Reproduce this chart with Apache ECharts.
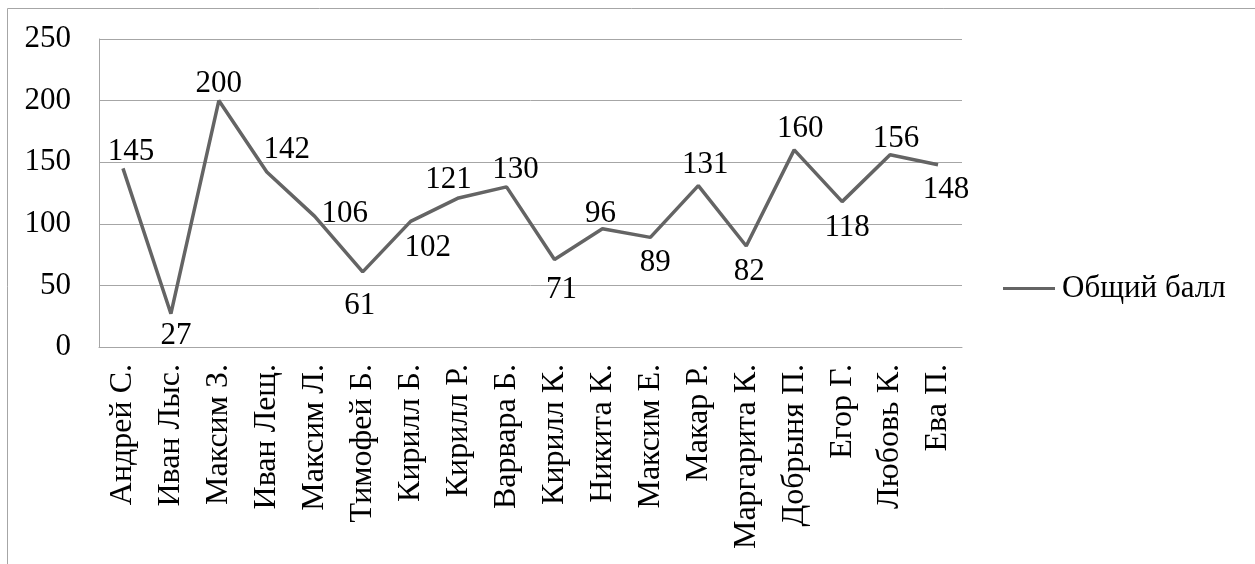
<!DOCTYPE html>
<html>
<head>
<meta charset="utf-8">
<style>
  html, body { margin: 0; padding: 0; background: #fff; }
  #chart { width: 1255px; height: 564px; }
</style>
<script src="https://cdn.jsdelivr.net/npm/echarts@6/dist/echarts.min.js"></script>
</head>
<body>
<div id="chart"></div>
<script>
// Students and their total scores
const students = ['Андрей С.', 'Иван Лыс.', 'Максим З.', 'Иван Лещ.', 'Максим Л.', 'Тимофей Б.',
  'Кирилл Б.', 'Кирилл Р.', 'Варвара Б.', 'Кирилл К.', 'Никита К.', 'Максим Е.', 'Макар Р.',
  'Маргарита К.', 'Добрыня П.', 'Егор Г.', 'Любовь К.', 'Ева П.'];
const totalScore = [145, 27, 200, 142, 106, 61, 102, 121, 130, 71, 96, 89, 131, 82, 160, 118, 156, 148];
const seriesName = 'Общий балл';

// Where each value label sits relative to its point (px)
const labelShift = [[8, -17], [5, 22], [0, -17], [20, -22], [30, -3], [-3, 34], [17, 27], [-10, -18],
  [9, -17], [7, 30], [-2, -15], [5, 26], [7, -21], [3, 26], [6, -21], [5, 26], [6, -16], [8, 25]];

const FONT = '"Liberation Serif", "Times New Roman", serif';
const FS = 31;
const LINE = '#646464';
const GRID = '#a6a6a6';

const chart = echarts.init(document.getElementById('chart'), null, { renderer: 'canvas' });

chart.setOption({
  animation: false,
  backgroundColor: '#fff',
  textStyle: { fontFamily: FONT },
  graphic: [{
    type: 'rect',
    shape: { x: 7.5, y: 8.5, width: 1400, height: 700 },
    style: { fill: 'none', stroke: GRID, lineWidth: 1 },
    silent: true
  }],
  grid: { left: 99, right: 293, top: 39, bottom: 217, containLabel: false },
  legend: {
    data: [{ name: seriesName, itemStyle: { color: LINE, opacity: 1 } }],
    left: 998,
    top: 268,
    itemWidth: 52,
    itemHeight: 3,
    itemGap: 0,
    icon: 'rect',
    textStyle: { fontFamily: FONT, fontSize: FS, color: '#000', padding: [0, 0, 0, 2] }
  },
  xAxis: {
    type: 'category',
    data: students,
    boundaryGap: true,
    axisLine: { show: true, lineStyle: { color: GRID, width: 1 } },
    axisTick: { show: false },
    axisLabel: { rotate: 90, margin: 17, interval: 0, fontFamily: FONT, fontSize: 32, color: '#000' }
  },
  yAxis: {
    type: 'value',
    min: 0,
    max: 250,
    interval: 50,
    axisLine: { show: true, lineStyle: { color: GRID, width: 1 } },
    axisTick: { show: false },
    axisLabel: { margin: 28, fontFamily: FONT, fontSize: FS, color: '#000' },
    splitLine: { show: true, lineStyle: { color: GRID, width: 1 } }
  },
  series: [{
    name: seriesName,
    type: 'line',
    color: LINE,
    data: totalScore.map((v, i) => ({
      value: v,
      label: { offset: labelShift[i] }
    })),
    symbol: 'circle',
    symbolSize: 0,
    showSymbol: true,
    itemStyle: { color: LINE },
    lineStyle: { color: LINE, width: 3.5 },
    label: {
      show: true,
      position: 'inside',
      align: 'center',
      verticalAlign: 'middle',
      fontFamily: FONT,
      fontSize: FS,
      color: '#000'
    },
    emphasis: { disabled: true }
  }]
});
</script>
</body>
</html>
